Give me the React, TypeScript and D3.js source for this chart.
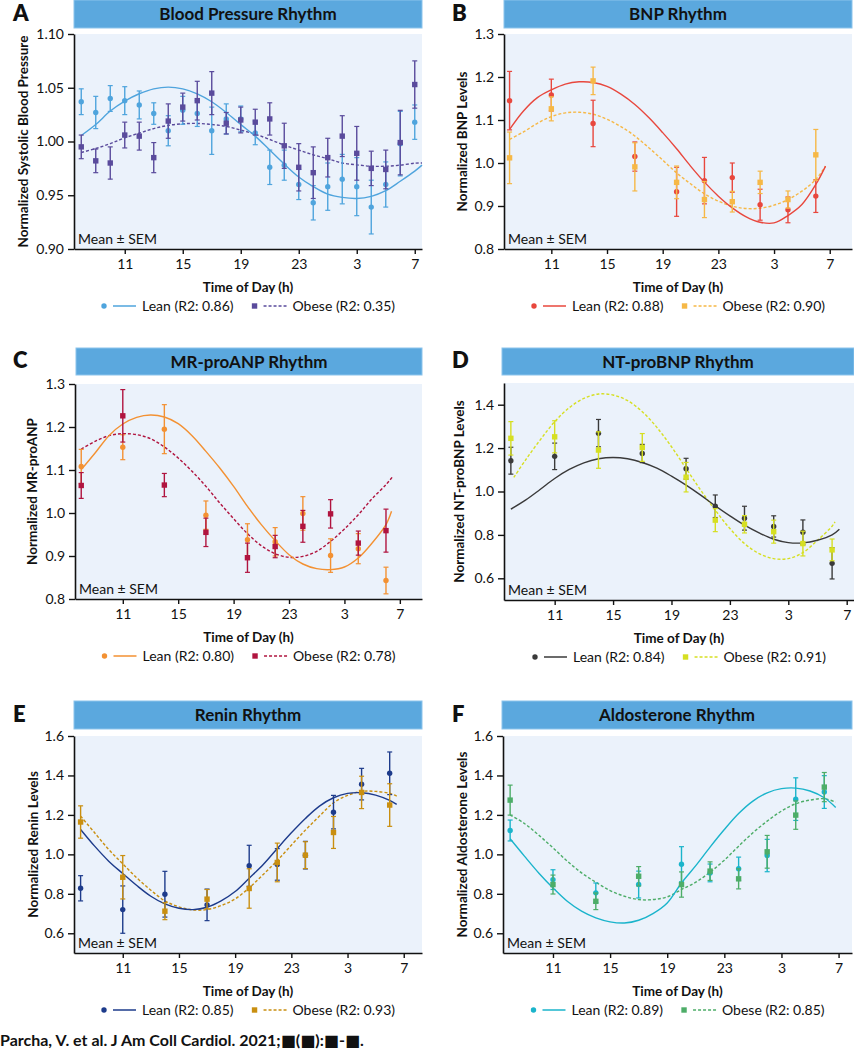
import React, { useEffect, useRef } from 'react';
import * as d3 from 'd3';

// ---------- DATA ----------
// Panel A: hourly blood pressure samples (8 = 08:00 ... 31 = 07:00 next day)
const bpHours = [8, 9, 10, 11, 12, 13, 14, 15, 16, 17, 18, 19, 20, 21, 22, 23, 24, 25, 26, 27, 28, 29, 30, 31];
const bpLeanMean = [1.037, 1.027, 1.040, 1.038, 1.034, 1.026, 1.010, 1.029, 1.026, 1.010, 1.021, 1.021, 1.008, 0.976, 0.978, 0.960, 0.943, 0.958, 0.965, 0.958, 0.939, 0.960, 0.998, 1.018];
const bpLeanSem = [0.012, 0.015, 0.012, 0.013, 0.013, 0.010, 0.014, 0.013, 0.012, 0.022, 0.014, 0.012, 0.011, 0.016, 0.014, 0.014, 0.016, 0.022, 0.023, 0.027, 0.025, 0.021, 0.030, 0.016];
const bpObeseMean = [0.995, 0.982, 0.980, 1.006, 1.005, 0.985, 1.019, 1.032, 1.038, 1.045, 1.017, 1.020, 1.018, 1.021, 0.996, 0.976, 0.971, 0.985, 1.005, 0.989, 0.975, 0.974, 0.999, 1.053];
const bpObeseSem = [0.011, 0.011, 0.015, 0.012, 0.013, 0.014, 0.016, 0.013, 0.018, 0.020, 0.010, 0.012, 0.012, 0.015, 0.021, 0.022, 0.024, 0.018, 0.019, 0.025, 0.016, 0.018, 0.030, 0.022];
const bpFitHours = [8, 9, 10, 11, 12, 13, 14, 15, 16, 17, 18, 19, 20, 21, 22, 23, 24, 25, 26, 27, 28, 29, 30, 31, 31.5];
const bpLeanFit = [1.0056, 1.0158, 1.0283, 1.0376, 1.0444, 1.049, 1.0506, 1.049, 1.0444, 1.037, 1.027, 1.0158, 1.005, 0.992, 0.979, 0.967, 0.958, 0.951, 0.948, 0.947, 0.949, 0.9543, 0.963, 0.9724, 0.978];
const bpObeseFit = [0.9898, 0.9935, 0.998, 1.0034, 1.0078, 1.012, 1.015, 1.0165, 1.0168, 1.0158, 1.014, 1.0106, 1.0068, 1.0019, 0.9966, 0.992, 0.9876, 0.984, 0.980, 0.9783, 0.977, 0.977, 0.978, 0.9798, 0.980];

// Panels B-F: blood sampling times
const sampleHours = [8, 11, 14, 17, 20, 22, 24, 26, 28, 30];
const fitHours = [8, 9, 10, 11, 12, 13, 14, 15, 16, 17, 18, 19, 20, 21, 22, 23, 24, 25, 26, 27, 28, 29, 30];

// B: BNP
const bnpLeanMean = [1.145, 1.158, 1.092, 1.015, 0.933, 0.959, 0.966, 0.903, 0.891, 0.923];
const bnpLeanSem = [0.068, 0.037, 0.054, 0.034, 0.057, 0.054, 0.034, 0.036, 0.030, 0.038];
const bnpObeseMean = [1.012, 1.126, 1.191, 0.991, 0.955, 0.915, 0.910, 0.955, 0.915, 1.019];
const bnpObeseSem = [0.060, 0.028, 0.032, 0.056, 0.038, 0.042, 0.024, 0.026, 0.020, 0.059];
const bnpFitEnd = 30.7;
const bnpLeanFit = [1.078, 1.121, 1.152, 1.170, 1.1834, 1.1888, 1.1873, 1.178, 1.160, 1.136, 1.1056, 1.0706, 1.0333, 0.9928, 0.9555, 0.9229, 0.8956, 0.8747, 0.8622, 0.8607, 0.8778, 0.9034, 0.950, 0.9928];
const bnpObeseFit = [1.055, 1.0722, 1.0924, 1.108, 1.1165, 1.118, 1.1134, 1.1017, 1.0846, 1.0628, 1.0356, 1.0068, 0.977, 0.9516, 0.9283, 0.9112, 0.8995, 0.8941, 0.8949, 0.9019, 0.915, 0.9345, 0.9617, 0.9928];

// C: MR-proANP
const anpLeanMean = [1.108, 1.153, 1.195, 0.995, 0.938, 0.933, 0.999, 0.901, 0.917, 0.843];
const anpLeanSem = [0.040, 0.029, 0.057, 0.033, 0.037, 0.033, 0.039, 0.039, 0.035, 0.031];
const anpObeseMean = [1.064, 1.226, 1.065, 0.955, 0.896, 0.922, 0.969, 0.998, 0.930, 0.959];
const anpObeseSem = [0.030, 0.061, 0.027, 0.033, 0.034, 0.026, 0.037, 0.033, 0.028, 0.050];
const anpLeanFitEnd = 30.4;
const anpObeseFitEnd = 30.5;
const anpLeanFit = [1.1008, 1.1395, 1.1798, 1.207, 1.2225, 1.2279, 1.2233, 1.2078, 1.1798, 1.1434, 1.1047, 1.062, 1.0155, 0.9729, 0.9357, 0.9031, 0.8814, 0.8705, 0.8682, 0.8744, 0.8953, 0.9302, 0.9729, 1.0039];
const anpObeseFit = [1.1488, 1.1667, 1.1798, 1.1845, 1.1822, 1.1729, 1.1535, 1.1279, 1.0969, 1.062, 1.0233, 0.9868, 0.952, 0.924, 0.9054, 0.8969, 0.8992, 0.9109, 0.9341, 0.9628, 0.9961, 1.0333, 1.0659, 1.0853];

// D: NT-proBNP
const ntLeanMean = [1.142, 1.162, 1.269, 1.175, 1.105, 0.932, 0.877, 0.839, 0.812, 0.669];
const ntLeanSem = [0.062, 0.061, 0.063, 0.042, 0.048, 0.052, 0.055, 0.049, 0.057, 0.072];
const ntObeseMean = [1.245, 1.252, 1.191, 1.203, 1.066, 0.868, 0.849, 0.815, 0.760, 0.731];
const ntObeseSem = [0.077, 0.074, 0.084, 0.064, 0.068, 0.053, 0.040, 0.053, 0.057, 0.050];
const ntLeanFitEnd = 30.5;
const ntLeanFit = [0.9185, 0.96, 1.0092, 1.06, 1.1015, 1.1323, 1.1508, 1.1569, 1.1508, 1.1338, 1.1077, 1.0708, 1.0292, 0.9831, 0.9338, 0.8877, 0.8446, 0.8092, 0.78, 0.7646, 0.7631, 0.7754, 0.80, 0.8262];
const ntObeseFitHours = [8.2, 9, 10, 11, 12, 13, 14, 15, 16, 17, 18, 19, 20, 21, 22, 23, 24, 25, 26, 27, 28, 29, 30, 30.2];
const ntObeseFit = [1.0646, 1.1446, 1.2369, 1.3215, 1.3862, 1.4292, 1.4492, 1.4446, 1.4185, 1.3677, 1.2954, 1.2062, 1.1062, 1.0062, 0.9138, 0.8292, 0.76, 0.7138, 0.6908, 0.6908, 0.7185, 0.775, 0.84, 0.86];

// E: Renin
const reninLeanMean = [0.828, 0.720, 0.798, 0.744, 0.942, 0.949, 0.996, 1.214, 1.356, 1.411];
const reninLeanSem = [0.064, 0.120, 0.116, 0.080, 0.104, 0.080, 0.070, 0.085, 0.080, 0.108];
const reninObeseMean = [1.164, 0.884, 0.712, 0.773, 0.827, 0.959, 0.996, 1.111, 1.314, 1.250];
const reninObeseSem = [0.082, 0.110, 0.043, 0.049, 0.100, 0.098, 0.068, 0.081, 0.082, 0.108];
const reninFitEnd = 30.5;
const reninLeanFit = [1.1262, 1.0416, 0.9655, 0.9029, 0.842, 0.7878, 0.7489, 0.7269, 0.7201, 0.732, 0.7641, 0.8115, 0.8792, 0.9486, 1.0298, 1.1093, 1.1821, 1.2447, 1.287, 1.309, 1.3124, 1.3005, 1.2734, 1.253];
const reninObeseFit = [1.1939, 1.1093, 1.0247, 0.952, 0.8809, 0.8183, 0.7641, 0.7337, 0.7184, 0.7201, 0.7404, 0.7743, 0.8301, 0.8978, 0.9689, 1.0467, 1.1228, 1.1939, 1.2616, 1.2988, 1.3191, 1.3191, 1.309, 1.2954];

// F: Aldosterone
const aldoLeanMean = [1.121, 0.872, 0.805, 0.847, 0.950, 0.906, 0.927, 0.994, 1.280, 1.316];
const aldoLeanSem = [0.053, 0.050, 0.050, 0.068, 0.089, 0.045, 0.059, 0.082, 0.108, 0.083];
const aldoObeseMean = [1.275, 0.847, 0.762, 0.889, 0.847, 0.915, 0.876, 1.013, 1.199, 1.341];
const aldoObeseSem = [0.076, 0.048, 0.042, 0.049, 0.064, 0.047, 0.051, 0.083, 0.072, 0.074];
const aldoFitEnd = 30.8;
const aldoLeanFit = [1.0789, 0.991, 0.906, 0.830, 0.762, 0.712, 0.678, 0.658, 0.652, 0.666, 0.700, 0.754, 0.855, 0.943, 1.037, 1.126, 1.207, 1.27, 1.312, 1.333, 1.336, 1.321, 1.287, 1.238];
const aldoObeseFit = [1.199, 1.1567, 1.0975, 1.0332, 0.9655, 0.9063, 0.8589, 0.8166, 0.7878, 0.7709, 0.7709, 0.7844, 0.8217, 0.8589, 0.9097, 0.9706, 1.0416, 1.1093, 1.1685, 1.2193, 1.2565, 1.2751, 1.2819, 1.265];

// Tick labels
const xTickHours = [11, 15, 19, 23, 27, 31];
const xTickLabels = ['11', '15', '19', '23', '3', '7'];
const yTicksBP = [0.90, 0.95, 1.00, 1.05, 1.10];
const yTicksBNP = [0.8, 0.9, 1.0, 1.1, 1.2, 1.3];
const yTicksNT = [0.6, 0.8, 1.0, 1.2, 1.4];
const yTicksRA = [0.6, 0.8, 1.0, 1.2, 1.4, 1.6];

const leanR2 = ['0.86', '0.88', '0.80', '0.84', '0.85', '0.89'];
const obeseR2 = ['0.35', '0.90', '0.78', '0.91', '0.93', '0.85'];

// ---------- PANELS (built from the arrays above) ----------
const withEnd = (hours: number[], end: number) => hours.concat([end]);

const panels = [
  {
    letter: 'A', title: 'Blood Pressure Rhythm', yLabel: 'Normalized Systolic Blood Pressure',
    hours: bpHours, leanMean: bpLeanMean, leanSem: bpLeanSem, obeseMean: bpObeseMean, obeseSem: bpObeseSem,
    leanFitH: bpFitHours, leanFit: bpLeanFit, obeseFitH: bpFitHours, obeseFit: bpObeseFit,
    yTicks: yTicksBP, fmt: '.2f', leanR2: leanR2[0], obeseR2: obeseR2[0],
    leanColor: '#4fa4dd', obeseColor: '#5a4b9c',
  },
  {
    letter: 'B', title: 'BNP Rhythm', yLabel: 'Normalized BNP Levels',
    hours: sampleHours, leanMean: bnpLeanMean, leanSem: bnpLeanSem, obeseMean: bnpObeseMean, obeseSem: bnpObeseSem,
    leanFitH: withEnd(fitHours, bnpFitEnd), leanFit: bnpLeanFit, obeseFitH: withEnd(fitHours, bnpFitEnd), obeseFit: bnpObeseFit,
    yTicks: yTicksBNP, fmt: '.1f', leanR2: leanR2[1], obeseR2: obeseR2[1],
    leanColor: '#e8473d', obeseColor: '#f6b846',
  },
  {
    letter: 'C', title: 'MR-proANP Rhythm', yLabel: 'Normalized MR-proANP',
    hours: sampleHours, leanMean: anpLeanMean, leanSem: anpLeanSem, obeseMean: anpObeseMean, obeseSem: anpObeseSem,
    leanFitH: withEnd(fitHours, anpLeanFitEnd), leanFit: anpLeanFit, obeseFitH: withEnd(fitHours, anpObeseFitEnd), obeseFit: anpObeseFit,
    yTicks: yTicksBNP, fmt: '.1f', leanR2: leanR2[2], obeseR2: obeseR2[2],
    leanColor: '#f39132', obeseColor: '#b0143f',
  },
  {
    letter: 'D', title: 'NT-proBNP Rhythm', yLabel: 'Normalized NT-proBNP Levels',
    hours: sampleHours, leanMean: ntLeanMean, leanSem: ntLeanSem, obeseMean: ntObeseMean, obeseSem: ntObeseSem,
    leanFitH: withEnd(fitHours, ntLeanFitEnd), leanFit: ntLeanFit, obeseFitH: ntObeseFitHours, obeseFit: ntObeseFit,
    yTicks: yTicksNT, fmt: '.1f', leanR2: leanR2[3], obeseR2: obeseR2[3],
    leanColor: '#3a3a3a', obeseColor: '#d6df22',
  },
  {
    letter: 'E', title: 'Renin Rhythm', yLabel: 'Normalized Renin Levels',
    hours: sampleHours, leanMean: reninLeanMean, leanSem: reninLeanSem, obeseMean: reninObeseMean, obeseSem: reninObeseSem,
    leanFitH: withEnd(fitHours, reninFitEnd), leanFit: reninLeanFit, obeseFitH: withEnd(fitHours, reninFitEnd), obeseFit: reninObeseFit,
    yTicks: yTicksRA, fmt: '.1f', leanR2: leanR2[4], obeseR2: obeseR2[4],
    leanColor: '#1d3b8b', obeseColor: '#c98f10',
  },
  {
    letter: 'F', title: 'Aldosterone Rhythm', yLabel: 'Normalized Aldosterone Levels',
    hours: sampleHours, leanMean: aldoLeanMean, leanSem: aldoLeanSem, obeseMean: aldoObeseMean, obeseSem: aldoObeseSem,
    leanFitH: withEnd(fitHours, aldoFitEnd), leanFit: aldoLeanFit, obeseFitH: withEnd(fitHours, aldoFitEnd), obeseFit: aldoObeseFit,
    yTicks: yTicksRA, fmt: '.1f', leanR2: leanR2[5], obeseR2: obeseR2[5],
    leanColor: '#1ab4cb', obeseColor: '#4dad68',
  },
];

// ---------- LAYOUT ----------
const layouts = [
  { x0: 74, x1: 422, y0: 34, y1: 249, bar: [74, 422, 0, 28], lx: 13, ly: 21, xDom: [7.5, 31.5], yDom: [0.9, 1.1], yTitleOff: 51 },
  { x0: 504, x1: 852, y0: 34, y1: 249, bar: [504, 852, 0, 28], lx: 452, ly: 21, xDom: [7.6, 32.6], yDom: [0.8, 1.3], yTitleOff: 42 },
  { x0: 75, x1: 422, y0: 384, y1: 599, bar: [76, 422, 348, 375], lx: 13, ly: 368, xDom: [7.55, 32.6], yDom: [0.8, 1.3], yTitleOff: 43 },
  { x0: 504, x1: 854, y0: 383, y1: 600, bar: [502, 854, 348, 375], lx: 452, ly: 368, xDom: [7.53, 31.5], yDom: [0.5, 1.5], yTitleOff: 45 },
  { x0: 74, x1: 422, y0: 736, y1: 953, bar: [74, 422, 701, 729], lx: 13, ly: 722, xDom: [7.53, 32.3], yDom: [0.5, 1.6], yTitleOff: 41 },
  { x0: 503, x1: 852, y0: 736, y1: 953, bar: [502, 852, 701, 729], lx: 452, ly: 722, xDom: [7.5, 31.94], yDom: [0.5, 1.6], yTitleOff: 41 },
];

const FONT = "Lato, 'Open Sans', 'DejaVu Sans', sans-serif";

export default function App() {
  const ref = useRef<SVGSVGElement | null>(null);

  useEffect(() => {
    const svg = d3.select(ref.current);
    svg.selectAll('*').remove();

    panels.forEach((p, i) => {
      const L = layouts[i];
      const g = svg.append('g');

      // title bar
      g.append('rect')
        .attr('x', L.bar[0]).attr('y', L.bar[2])
        .attr('width', L.bar[1] - L.bar[0]).attr('height', L.bar[3] - L.bar[2])
        .attr('fill', '#5ba8de').attr('stroke', '#8cc4ec').attr('stroke-width', 1);
      g.append('text')
        .attr('x', (L.bar[0] + L.bar[1]) / 2).attr('y', L.bar[2] + 20)
        .attr('text-anchor', 'middle').attr('font-family', FONT).attr('font-weight', 700)
        .attr('font-size', 17).attr('fill', '#111').text(p.title);

      // panel letter
      g.append('text').attr('x', L.lx).attr('y', L.ly)
        .attr('font-family', FONT).attr('font-weight', 800).attr('font-size', 22)
        .attr('fill', '#111').text(p.letter);

      // plot background
      g.append('rect').attr('x', L.x0).attr('y', L.y0)
        .attr('width', L.x1 - L.x0).attr('height', L.y1 - L.y0).attr('fill', '#ebf2fb');

      const x = d3.scaleLinear().domain(L.xDom).range([L.x0, L.x1]);
      const y = d3.scaleLinear().domain(L.yDom).range([L.y1, L.y0]);

      const line = d3.line<[number, number]>()
        .x(d => x(d[0])).y(d => y(d[1]))
        .curve(d3.curveCatmullRom.alpha(0.5));

      const plot = g.append('g');
      // fitted curves
      plot.append('path')
        .attr('d', line(p.obeseFitH.map((h, k) => [h, p.obeseFit[k]] as [number, number])) || '')
        .attr('fill', 'none').attr('stroke', p.obeseColor).attr('stroke-width', 1.4)
        .attr('stroke-dasharray', '3,2');
      plot.append('path')
        .attr('d', line(p.leanFitH.map((h, k) => [h, p.leanFit[k]] as [number, number])) || '')
        .attr('fill', 'none').attr('stroke', p.leanColor).attr('stroke-width', 1.4);

      const drawSeries = (means: number[], sems: number[], color: string, square: boolean) => {
        const sg = plot.append('g');
        p.hours.forEach((h, k) => {
          const cx = x(h);
          const top = y(means[k] + sems[k]);
          const bot = y(means[k] - sems[k]);
          sg.append('line').attr('x1', cx).attr('x2', cx).attr('y1', top).attr('y2', bot)
            .attr('stroke', color).attr('stroke-width', 1.4);
          [top, bot].forEach(yy => {
            sg.append('line').attr('x1', cx - 2.5).attr('x2', cx + 2.5).attr('y1', yy).attr('y2', yy)
              .attr('stroke', color).attr('stroke-width', 1.2);
          });
          const cy = y(means[k]);
          if (square) {
            sg.append('rect').attr('x', cx - 2.7).attr('y', cy - 2.7).attr('width', 5.4).attr('height', 5.4)
              .attr('fill', color);
          } else {
            sg.append('circle').attr('cx', cx).attr('cy', cy).attr('r', 2.7).attr('fill', color);
          }
        });
      };
      drawSeries(p.leanMean, p.leanSem, p.leanColor, false);
      drawSeries(p.obeseMean, p.obeseSem, p.obeseColor, true);

      // axes
      const yAxis = d3.axisLeft(y).tickValues(p.yTicks).tickSize(6).tickSizeOuter(0).tickPadding(4)
        .tickFormat(d3.format(p.fmt) as any);
      const ya = g.append('g').attr('transform', `translate(${L.x0},0)`).call(yAxis);
      const xAxis = d3.axisBottom(x).tickValues(xTickHours).tickSize(5).tickSizeOuter(0).tickPadding(5)
        .tickFormat((d: any) => xTickLabels[xTickHours.indexOf(d)]);
      const xa = g.append('g').attr('transform', `translate(0,${L.y1})`).call(xAxis);
      [ya, xa].forEach(a => {
        a.selectAll('path').attr('stroke', '#111').attr('stroke-width', 1.6);
        a.selectAll('line').attr('stroke', '#111').attr('stroke-width', 1.4);
        a.selectAll('text').attr('font-family', FONT).attr('font-size', 14).attr('fill', '#111');
      });

      // Mean ± SEM
      g.append('text').attr('x', L.x0 + 4).attr('y', L.y1 - 5)
        .attr('font-family', FONT).attr('font-size', 14).attr('fill', '#111').text('Mean ± SEM');

      const cxPlot = (L.x0 + L.x1) / 2;
      // x title
      g.append('text').attr('x', cxPlot).attr('y', L.y1 + 43)
        .attr('text-anchor', 'middle').attr('font-family', FONT).attr('font-weight', 700)
        .attr('font-size', 13.5).attr('fill', '#111').text('Time of Day (h)');
      // y title
      const cyPlot = (L.y0 + L.y1) / 2;
      g.append('text')
        .attr('transform', `translate(${L.x0 - L.yTitleOff},${cyPlot}) rotate(-90)`)
        .attr('text-anchor', 'middle').attr('dy', '0.35em').attr('font-family', FONT).attr('font-weight', 700)
        .attr('font-size', 13.5).attr('fill', '#111').text(p.yLabel);

      // legend
      const lg = g.append('g');
      const ly = L.y1 + 57;
      const t1 = lg.append('text').attr('y', ly).attr('dy', '0.35em').attr('font-family', FONT)
        .attr('font-size', 14).attr('fill', '#111').text(`Lean (R2: ${p.leanR2})`);
      const t2 = lg.append('text').attr('y', ly).attr('dy', '0.35em').attr('font-family', FONT)
        .attr('font-size', 14).attr('fill', '#111').text(`Obese (R2: ${p.obeseR2})`);
      const w1 = (t1.node() as SVGTextElement).getComputedTextLength();
      const w2 = (t2.node() as SVGTextElement).getComputedTextLength();
      const itemW = (w: number) => 3 + 9 + 23 + 6 + w;
      const total = itemW(w1) + 18 + itemW(w2);
      let sx = cxPlot - total / 2;
      // lean item
      lg.append('circle').attr('cx', sx + 3).attr('cy', ly).attr('r', 2.7).attr('fill', p.leanColor);
      lg.append('line').attr('x1', sx + 12).attr('x2', sx + 35).attr('y1', ly).attr('y2', ly)
        .attr('stroke', p.leanColor).attr('stroke-width', 1.5);
      t1.attr('x', sx + 41);
      sx += itemW(w1) + 18;
      lg.append('rect').attr('x', sx + 0.3).attr('y', ly - 2.7).attr('width', 5.4).attr('height', 5.4)
        .attr('fill', p.obeseColor);
      lg.append('line').attr('x1', sx + 12).attr('x2', sx + 35).attr('y1', ly).attr('y2', ly)
        .attr('stroke', p.obeseColor).attr('stroke-width', 1.5).attr('stroke-dasharray', '3,2');
      t2.attr('x', sx + 41);
    });

    // footer
    svg.append('text').attr('x', 0).attr('y', 1046)
      .attr('font-family', FONT).attr('font-weight', 700).attr('font-size', 16).attr('fill', '#111')
      .text('Parcha, V. et al. J Am Coll Cardiol. 2021;\u25A0(\u25A0):\u25A0-\u25A0.');
  }, []);

  return (
    <svg ref={ref} width={854} height={1050}
      style={{ position: 'absolute', left: 0, top: 0, background: '#fff', display: 'block' }} />
  );
}
